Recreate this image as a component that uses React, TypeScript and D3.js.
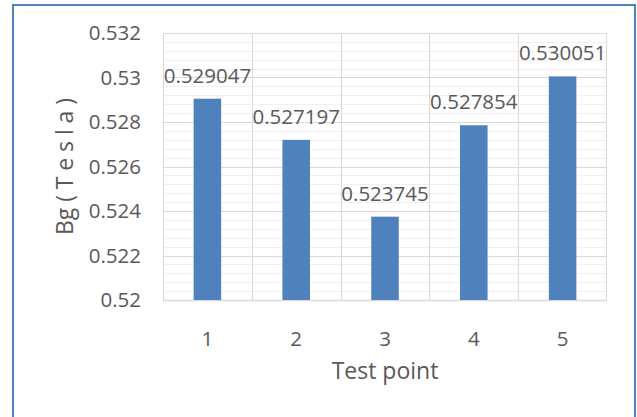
import React from "react";
import * as d3 from "d3";

const categories = ["1", "2", "3", "4", "5"];
const values = [0.529047, 0.527197, 0.523745, 0.527854, 0.530051];
const valueLabels = ["0.529047", "0.527197", "0.523745", "0.527854", "0.530051"];
const yTicks = [0.52, 0.522, 0.524, 0.526, 0.528, 0.53, 0.532];
const yTickLabels = ["0.52", "0.522", "0.524", "0.526", "0.528", "0.53", "0.532"];
const yTitle = "Bg ( T e s l a )";
const xTitle = "Test point";

const W = 637;
const H = 417;
const plot = { left: 163, right: 607, top: 33, bottom: 300 };
const FONT = "'Open Sans', 'Noto Sans', sans-serif";
const TXT = "#595959";
const BAR = "#4F81BD";

export default function App() {
  const x = d3.scaleBand<string>().domain(categories).range([plot.left, plot.right]).paddingInner(0).paddingOuter(0);
  const y = d3.scaleLinear().domain([0.52, 0.532]).range([plot.bottom, plot.top]);
  const minor = d3.range(0, 31).map((i) => 0.52 + i * 0.0004);
  const bw = x.bandwidth() * 0.31;

  return (
    <svg width={W} height={H} style={{ position: "absolute", left: 0, top: 0, background: "#fff" }}>
      <rect x={0} y={0} width={W} height={H} fill="#fff" />
      {/* outer border */}
      <path d={`M13,${H + 5} L13,5 L635,5 L635,${H + 5}`} fill="none" stroke={BAR} strokeWidth={2} />
      {/* minor gridlines */}
      {minor.map((v, i) => (
        <line key={"m" + i} x1={plot.left} x2={plot.right} y1={Math.round(y(v)) + 0.5} y2={Math.round(y(v)) + 0.5} stroke="#f0f0f0" strokeWidth={1} />
      ))}
      {/* major gridlines */}
      {yTicks.map((v, i) => (
        <line key={"g" + i} x1={plot.left} x2={plot.right} y1={Math.round(y(v)) + 0.5} y2={Math.round(y(v)) + 0.5} stroke="#d9d9d9" strokeWidth={1} />
      ))}
      {/* vertical gridlines at category boundaries */}
      {categories.map((c, i) => (
        <line key={"v" + i} x1={Math.round(x(c)!) + 0.5} x2={Math.round(x(c)!) + 0.5} y1={plot.top} y2={plot.bottom} stroke="#d9d9d9" strokeWidth={1} />
      ))}
      <line x1={plot.right - 0.5} x2={plot.right - 0.5} y1={plot.top} y2={plot.bottom} stroke="#d9d9d9" strokeWidth={1} />
      <line x1={plot.left} x2={plot.right} y1={plot.bottom + 0.5} y2={plot.bottom + 0.5} stroke="#d9d9d9" strokeWidth={1.5} />
      {/* bars */}
      {categories.map((c, i) => {
        const cx = x(c)! + x.bandwidth() / 2;
        return (
          <rect key={"b" + i} x={cx - bw / 2} y={y(values[i])} width={bw} height={y(0.52) - y(values[i])} fill={BAR} />
        );
      })}
      {/* value labels */}
      {categories.map((c, i) => {
        const cx = x(c)! + x.bandwidth() / 2;
        return (
          <text key={"l" + i} x={cx} y={y(values[i]) - 16} textAnchor="middle" fontFamily={FONT} fontSize={20.5} fill={TXT}>
            {valueLabels[i]}
          </text>
        );
      })}
      {/* y tick labels */}
      {yTicks.map((v, i) => (
        <text key={"t" + i} x={141} y={y(v)} dy="0.35em" textAnchor="end" fontFamily={FONT} fontSize={20.5} fill={TXT}>
          {yTickLabels[i]}
        </text>
      ))}
      {/* x tick labels */}
      {categories.map((c, i) => (
        <text key={"x" + i} x={x(c)! + x.bandwidth() / 2} y={346} textAnchor="middle" fontFamily={FONT} fontSize={20.5} fill={TXT}>
          {c}
        </text>
      ))}
      {/* axis titles */}
      <text x={(plot.left + plot.right) / 2} y={379} textAnchor="middle" fontFamily={FONT} fontSize={23} fill={TXT}>
        {xTitle}
      </text>
      <text transform={`translate(73,${(plot.top + plot.bottom) / 2}) rotate(-90)`} textAnchor="middle" fontFamily={FONT} fontSize={23} fill={TXT} textLength={137} lengthAdjust="spacing">
        {yTitle}
      </text>
    </svg>
  );
}
